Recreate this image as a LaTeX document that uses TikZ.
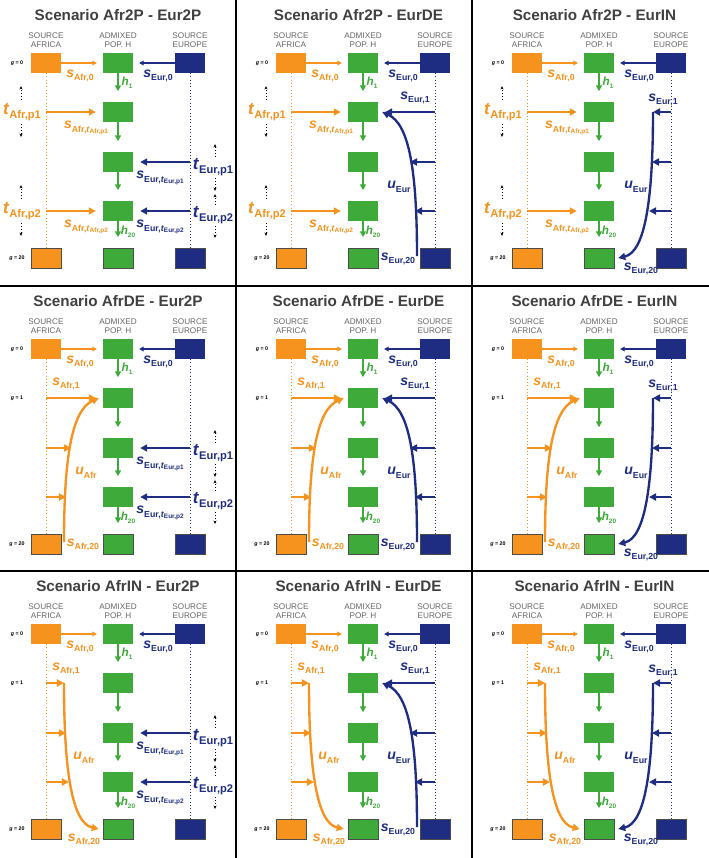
\documentclass[tikz,border=0pt]{standalone}
\usepackage{fontspec}
\setmainfont{Liberation Sans}
\usetikzlibrary{arrows.meta,calc}
\definecolor{orA}{HTML}{F5931E}
\definecolor{blE}{HTML}{1E2D82}
\definecolor{grH}{HTML}{3DAA3A}
\newcommand\sub[2]{\textbf{\textit{#1}}\raisebox{-0.5ex}{\fontsize{7.5}{8}\selectfont\bfseries #2}}
\newcommand\tsub[2]{\textbf{\textit{#1}}\raisebox{-0.5ex}{\fontsize{9.5}{10}\selectfont\bfseries #2}}
\newcommand\hsub[2]{\textbf{\textit{#1}}\raisebox{-0.5ex}{\fontsize{5.5}{6}\selectfont\bfseries #2}}
\newcommand\nst[2]{#1,\textit{t}\raisebox{-0.4ex}{\fontsize{5.5}{6}\selectfont #2}}
\tikzset{
 title/.style={font=\fontsize{13}{15}\selectfont\bfseries, text=black!75},
 hdr/.style={font=\fontsize{7}{8}\selectfont, text=black!60, align=center},
 abox/.style={fill=orA, minimum width=25.5pt, minimum height=17pt, inner sep=0},
 ebox/.style={fill=blE, minimum width=25.5pt, minimum height=17pt, inner sep=0},
 hbox/.style={fill=grH, minimum width=25.5pt, minimum height=17pt, inner sep=0},
 endbox/.style={draw=black!70, line width=0.5pt},
 glab/.style={font=\fontsize{4.5}{5}\selectfont\bfseries},
 alab/.style={text=orA, font=\fontsize{12}{12}\selectfont, inner sep=0},
 elab/.style={text=blE, font=\fontsize{12}{12}\selectfont, inner sep=0},
 atl/.style={text=orA, font=\fontsize{14.5}{15}\selectfont, inner sep=0},
 etl/.style={text=blE, font=\fontsize{14.5}{15}\selectfont, inner sep=0},
 hlab/.style={text=grH, font=\fontsize{10}{10}\selectfont, inner sep=0},
 athin/.style={orA, line width=1pt, -{Triangle[length=4pt,width=4pt]}},
 ethin/.style={blE, line width=1pt, -{Triangle[length=4pt,width=4pt]}},
 athick/.style={orA, line width=2pt, -{Triangle[length=6pt,width=6pt]}},
 ethick/.style={blE, line width=2pt, -{Triangle[length=6pt,width=6pt]}},
 garr/.style={grH, line width=1.4pt, -{Triangle[length=5pt,width=5pt]}, shorten >=9pt},
 adot/.style={orA, dotted, line width=0.8pt},
 edot/.style={blE, dotted, line width=0.8pt},
 dotarr/.style={black, dotted, line width=0.7pt, -{Stealth[length=3pt,width=2.5pt]}},
}
\def\cx{0}
% #1 prefix #2 x0 #3 y0 #4 title #5 afr macro #6 eur macro
\newcommand\panel[6]{%
\begin{scope}[shift={(#2,#3)}]
\node[title] (#1t) at (118+\cx/2,15) {#4};
\begin{scope}[shift={(\cx,0)}]
\node[hdr] (#1ha) at (46,40) {SOURCE\\AFRICA};
\node[hdr] (#1hh) at (118,40) {ADMIXED\\POP. H};
\node[hdr] (#1he) at (190,40) {SOURCE\\EUROPE};
\node[abox] (#1a0) at (46,63) {};
\node[abox,endbox] (#1a20) at (46,258) {};
\node[ebox] (#1e0) at (190,63) {};
\node[ebox,endbox] (#1e20) at (190,258) {};
\node[hbox] (#1h0) at (118,63) {};
\node[hbox] (#1h1) at (118,112) {};
\node[hbox] (#1h2) at (118,162) {};
\node[hbox] (#1h3) at (118,211) {};
\node[hbox,endbox] (#1h4) at (118,258) {};
\node[glab] (#1g0) at (17,63) {\textit{g} = 0};
\node[glab] (#1g20) at (17,258) {\textit{g} = 20};
\draw[adot] (#1a0.south) -- (#1a20.north);
\draw[edot] (#1e0.south) -- (#1e20.north);
\draw[athin, shorten >=5pt] (#1a0) -- (#1h0);
\draw[ethin, shorten >=5pt] (#1e0) -- (#1h0);
\node[alab] (#1sa0) at (80,76) {\sub{s}{Afr,0}};
\node[elab] (#1se0) at (158,76) {\sub{s}{Eur,0}};
\draw[garr] (#1h0.south) -- (#1h1.north);
\draw[garr] (#1h1.south) -- (#1h2.north);
\draw[garr] (#1h2.south) -- (#1h3.north);
\draw[garr] (#1h3.south) -- (#1h4.north);
\node[hlab] (#1lh1) at (127,83) {\hsub{h}{1}};
\node[hlab] (#1lh20) at (128,232) {\hsub{h}{20}};
#5{#1}#6{#1}
\end{scope}
\end{scope}}
\newcommand\AfrTwoP[1]{%
\draw[athick, shorten >=6pt] (#1a0 |- #1h1) -- (#1h1.west);
\draw[athick, shorten >=6pt] (#1a0 |- #1h3) -- (#1h3.west);
\node[atl] (#1ta1) at (22,112) {\tsub{t}{Afr,p1}};
\node[atl] (#1ta2) at (22,211) {\tsub{t}{Afr,p2}};
\draw[dotarr] (21,100) -- (21,86); \draw[dotarr] (21,124) -- (21,137);
\draw[dotarr] (21,199) -- (21,185); \draw[dotarr] (21,223) -- (21,236);
\node[alab] (#1sa1) at (86,128) {\sub{s}{\nst{Afr}{Afr,p1}}};
\node[alab] (#1sa2) at (86,227) {\sub{s}{\nst{Afr}{Afr,p2}}};
}
\newcommand\EurTwoP[1]{%
\draw[ethick, shorten >=6pt] (#1e0 |- #1h2) -- (#1h2.east);
\draw[ethick, shorten >=6pt] (#1e0 |- #1h3) -- (#1h3.east);
\node[etl] (#1te1) at (213,167) {\tsub{t}{Eur,p1}};
\node[etl] (#1te2) at (213,215) {\tsub{t}{Eur,p2}};
\draw[dotarr] (215,157) -- (215,144); \draw[dotarr] (215,178) -- (215,191);
\draw[dotarr] (215,205) -- (215,194); \draw[dotarr] (215,226) -- (215,238);
\node[elab] (#1se1) at (160,178) {\sub{s}{\nst{Eur}{Eur,p1}}};
\node[elab] (#1se2) at (160,227) {\sub{s}{\nst{Eur}{Eur,p2}}};
}
\newcommand\AfrDE[1]{%
\node[glab] (#1g1) at (17,112) {\textit{g} = 1};
\coordinate (#1ac) at (64,256);
\draw[athick, shorten >=6pt] (#1a0 |- #1h1) -- (#1h1.west);
\draw[athick] (#1ac) .. controls (64,170) and (72,124) .. ($(#1h1.west)+(-4,0)$);
\draw[athick] (#1a0 |- #1h2) -- (71,162);
\draw[athick] (#1a0 |- #1h3) -- (66,211);
\node[alab] (#1sa1) at (66,98) {\sub{s}{Afr,1}};
\node[alab] (#1ua) at (86,187) {\sub{u}{Afr}};
\node[alab] (#1sa20) at (83,259) {\sub{s}{Afr,20}};
}
\newcommand\AfrIN[1]{%
\node[glab] (#1g1) at (17,112) {\textit{g} = 1};
\coordinate (#1ac) at (64,112);
\draw[athick] (#1a0 |- #1h1) -- (#1ac);
\draw[athick] (#1a0 |- #1h2) -- (66,162);
\draw[athick] (#1a0 |- #1h3) -- (69,211);
\draw[athick] (#1ac) .. controls (64,200) and (72,252) .. ($(#1h4.west)+(-4,0)$);
\node[alab] (#1sa1) at (66,98) {\sub{s}{Afr,1}};
\node[alab] (#1ua) at (84,187) {\sub{u}{Afr}};
\node[alab] (#1sa20) at (84,269) {\sub{s}{Afr,20}};
}
\newcommand\EurDE[1]{%
\coordinate (#1ec) at (172,256);
\draw[ethick, shorten >=6pt] (#1e0 |- #1h1) -- (#1h1.east);
\draw[ethick] (#1ec) .. controls (172,170) and (164,124) .. ($(#1h1.east)+(4,0)$);
\draw[ethick] (#1e0 |- #1h2) -- (165,162);
\draw[ethick] (#1e0 |- #1h3) -- (170,211);
\node[elab] (#1se1) at (170,98) {\sub{s}{Eur,1}};
\node[elab] (#1ue) at (154,187) {\sub{u}{Eur}};
\node[elab] (#1se20) at (153,259) {\sub{s}{Eur,20}};
}
\newcommand\EurIN[1]{%
\coordinate (#1ec) at (172,112);
\draw[ethick] (#1e0 |- #1h1) -- (#1ec);
\draw[ethick] (#1e0 |- #1h2) -- (171,162);
\draw[ethick] (#1e0 |- #1h3) -- (168,211);
\draw[ethick] (#1ec) .. controls (172,200) and (164,252) .. ($(#1h4.east)+(4,0)$);
\node[elab] (#1se1) at (182,100) {\sub{s}{Eur,1}};
\node[elab] (#1ue) at (155,187) {\sub{u}{Eur}};
\node[elab] (#1se20) at (160,269) {\sub{s}{Eur,20}};
}
\begin{document}
\begin{tikzpicture}[x=0.03cm,y=-0.03cm]
\useasboundingbox[fill=white] (0,0) rectangle (709,858);
\def\cx{0}
\panel{A}{0}{0}{Scenario Afr2P - Eur2P}{\AfrTwoP}{\EurTwoP}
\panel{D}{0}{286}{Scenario AfrDE - Eur2P}{\AfrDE}{\EurTwoP}
\panel{G}{0}{571}{Scenario AfrIN - Eur2P}{\AfrIN}{\EurTwoP}
\def\cx{9}
\panel{B}{236}{0}{Scenario Afr2P - EurDE}{\AfrTwoP}{\EurDE}
\panel{C}{472}{0}{Scenario Afr2P - EurIN}{\AfrTwoP}{\EurIN}
\panel{E}{236}{286}{Scenario AfrDE - EurDE}{\AfrDE}{\EurDE}
\panel{F}{472}{286}{Scenario AfrDE - EurIN}{\AfrDE}{\EurIN}
\panel{H}{236}{571}{Scenario AfrIN - EurDE}{\AfrIN}{\EurDE}
\panel{I}{472}{571}{Scenario AfrIN - EurIN}{\AfrIN}{\EurIN}
\draw[line width=1.6pt] (236,0) -- (236,858) (472,0) -- (472,858) (0,286) -- (709,286) (0,571) -- (709,571);
\end{tikzpicture}
\end{document}
